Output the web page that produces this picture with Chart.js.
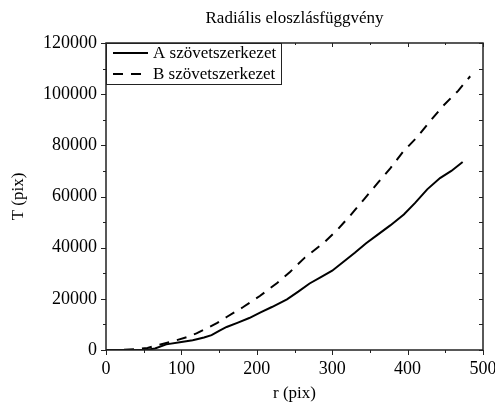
<!DOCTYPE html>
<html>
<head>
<meta charset="utf-8">
<script src="https://cdn.jsdelivr.net/npm/chart.js@4/dist/chart.umd.min.js"></script>
<style>
  html, body { margin: 0; padding: 0; background: #fff; }
  #wrap { width: 495px; height: 405px; }
</style>
</head>
<body>
<div id="wrap"><canvas id="radChart" width="495" height="405"></canvas></div>
<script>
// values
const rA = [0, 20, 40, 55, 65, 80, 100, 115, 130, 140, 150, 160, 175, 190, 205, 220, 240, 255, 270, 285, 300, 315, 330, 345, 360, 377, 395, 410, 426, 443, 458, 473];
const tA = [0, 0, 0, 100, 600, 2200, 3100, 3800, 4900, 5800, 7500, 9000, 10700, 12500, 14700, 16800, 19800, 22800, 26000, 28500, 31000, 34500, 38000, 41700, 45000, 48700, 53000, 57500, 62800, 67200, 70000, 73500];

const rB = [0, 20, 40, 55, 70, 90, 107, 120, 134, 147, 160, 182, 204, 227, 244, 264, 288, 306, 324, 343, 361, 377, 394, 412, 430, 447, 467, 483];
const tB = [0, 0, 300, 800, 2000, 3500, 5000, 6500, 8500, 10500, 12900, 16800, 21100, 26200, 30500, 36200, 41700, 46700, 52600, 59200, 65500, 71000, 77500, 83000, 89500, 95400, 101300, 107000];

const seriesNames = ['A szövetszerkezet', 'B szövetszerkezet'];
const chartTitle = 'Radiális eloszlásfüggvény';
const xTicks = [0, 100, 200, 300, 400, 500];
const yTicks = [0, 20000, 40000, 60000, 80000, 100000, 120000];

const serif = '"Liberation Serif", "DejaVu Serif", serif';

function pairs(xs, ys) {
  return xs.map((x, i) => ({ x: x, y: ys[i] }));
}

// title over the plot, frame + ticks on all four sides, legend box
const frameTicks = {
  id: 'frameTicks',
  afterDraw(chart) {
    const ctx = chart.ctx;
    const ca = chart.chartArea;
    const xs = chart.scales.x, ys = chart.scales.y;
    ctx.save();

    ctx.font = '17px ' + serif;
    ctx.fillStyle = '#000';
    ctx.textAlign = 'center';
    ctx.textBaseline = 'middle';
    ctx.fillText(chartTitle, (ca.left + ca.right) / 2, 19);

    ctx.strokeStyle = '#222';
    ctx.lineWidth = 1.5;
    ctx.strokeRect(ca.left, ca.top, ca.right - ca.left, ca.bottom - ca.top);
    ctx.lineWidth = 1;
    ctx.beginPath();
    for (let v = 0; v <= 500; v += 50) {
      const px = Math.round(xs.getPixelForValue(v)) + 0.5;
      const major = v % 100 === 0;
      ctx.moveTo(px, ca.bottom);
      ctx.lineTo(px, ca.bottom + (major ? 5 : 3));
      ctx.moveTo(px, ca.top);
      ctx.lineTo(px, ca.top + (major ? 4 : 2));
    }
    for (let v = 0; v <= 120000; v += 10000) {
      const py = Math.round(ys.getPixelForValue(v)) + 0.5;
      const major = v % 20000 === 0;
      ctx.moveTo(ca.left, py);
      ctx.lineTo(ca.left - (major ? 5 : 3), py);
      ctx.moveTo(ca.right, py);
      ctx.lineTo(ca.right - 4, py);
    }
    ctx.stroke();

    // legend box, top-left inside the plot
    const bx = ca.left, by = ca.top, bw = 175, bh = 41;
    ctx.fillStyle = '#fff';
    ctx.fillRect(bx, by, bw, bh);
    ctx.strokeStyle = '#222';
    ctx.lineWidth = 1;
    ctx.strokeRect(bx + 0.5, by + 0.5, bw, bh);
    ctx.font = '17px ' + serif;
    ctx.fillStyle = '#000';
    ctx.textAlign = 'left';
    chart.data.datasets.forEach((ds, i) => {
      const ly = by + 10 + i * 21;
      ctx.strokeStyle = '#000';
      ctx.lineWidth = 2;
      ctx.setLineDash(ds.borderDash || []);
      ctx.beginPath();
      ctx.moveTo(bx + 7, ly);
      ctx.lineTo(bx + 42, ly);
      ctx.stroke();
      ctx.setLineDash([]);
      ctx.fillText(ds.label, bx + 47, ly + 1);
    });
    ctx.restore();
  }
};

const data = {
  datasets: [
    {
      label: seriesNames[0],
      data: pairs(rA, tA),
      borderColor: '#000',
      borderWidth: 2,
      pointRadius: 0,
      tension: 0
    },
    {
      label: seriesNames[1],
      data: pairs(rB, tB),
      borderColor: '#000',
      borderWidth: 2,
      borderDash: [10, 8],
      pointRadius: 0,
      tension: 0
    }
  ]
};

const config = {
  type: 'line',
  data: data,
  options: {
    responsive: false,
    animation: false,
    layout: { padding: { left: 0, right: 12, top: 43, bottom: 0 } },
    plugins: {
      legend: { display: false },
      tooltip: { enabled: false },
      title: { display: false }
    },
    scales: {
      x: {
        type: 'linear',
        min: 0,
        max: 500,
        afterBuildTicks: (s) => { s.ticks = xTicks.map(v => ({ value: v })); },
        afterFit: (s) => { s.height = 55; s.paddingLeft = 0; s.paddingRight = 0; },
        grid: { display: true, drawOnChartArea: false, drawTicks: true, tickLength: 5, color: 'rgba(0,0,0,0)' },
        border: { display: false },
        ticks: { color: '#000', padding: 3, maxRotation: 0, font: { family: serif, size: 18 }, callback: (v) => String(v) },
        title: { display: true, text: 'r (pix)', color: '#000', padding: { top: 2, bottom: 1 }, font: { family: serif, size: 17 } }
      },
      y: {
        type: 'linear',
        min: 0,
        max: 120000,
        afterBuildTicks: (s) => { s.ticks = yTicks.map(v => ({ value: v })); },
        afterFit: (s) => { s.width = 106; s.paddingTop = 0; s.paddingBottom = 0; },
        grid: { display: true, drawOnChartArea: false, drawTicks: true, tickLength: 5, color: 'rgba(0,0,0,0)' },
        border: { display: false },
        ticks: { color: '#000', padding: 4, font: { family: serif, size: 18 }, callback: (v) => String(v) },
        title: { display: true, text: 'T (pix)', color: '#000', padding: { top: 8, bottom: 4 }, font: { family: serif, size: 17 } }
      }
    }
  },
  plugins: [frameTicks]
};

new Chart(document.getElementById('radChart'), config);
</script>
</body>
</html>
